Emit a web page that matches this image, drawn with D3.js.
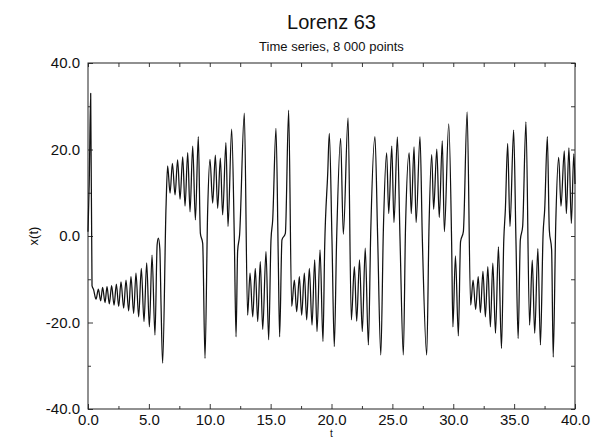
<!DOCTYPE html>
<html>
<head>
<meta charset="utf-8">
<script src="https://cdn.jsdelivr.net/npm/d3@7"></script>
<style>
  body { margin: 0; background: #fff; }
  text { font-family: "Liberation Sans", Arial, sans-serif; fill: #111; }
</style>
</head>
<body>
<div id="container"></div>
<script>
/* DATA */
// [t, x(t)] at the turning points of the trace
const samples = [
  [0.00, 1.0], [0.10, 12.0], [0.22, 33.0], [0.33, -11.5], [0.45, -12.3],
  [0.66, -14.6], [0.85, -12.3], [1.04, -15.0], [1.20, -11.9], [1.40, -15.4],
  [1.56, -11.7], [1.75, -15.7], [1.94, -11.5], [2.14, -16.0], [2.33, -11.1],
  [2.52, -16.3], [2.71, -10.6], [2.93, -16.7], [3.12, -10.2], [3.34, -17.3],
  [3.53, -9.4], [3.75, -17.9], [3.94, -8.6], [4.16, -18.7], [4.38, -7.5],
  [4.60, -19.8], [4.82, -6.2], [5.04, -21.0], [5.26, -4.4], [5.50, -22.9],
  [5.68, -2.0], [5.78, -0.5], [5.90, -3.0], [6.00, -16.0], [6.13, -29.4],
  [6.41, 6.8], [6.54, 16.2], [6.74, 9.9], [6.93, 16.8], [7.15, 9.5],
  [7.36, 17.6], [7.56, 8.5], [7.78, 18.3], [7.97, 6.9], [8.19, 19.3],
  [8.38, 5.6], [8.60, 20.8], [8.82, 3.7], [9.06, 23.0], [9.23, 0.6],
  [9.42, -1.7], [9.61, -28.3],
  [9.83, 6.0], [10.02, 17.7], [10.24, 7.6], [10.46, 18.7], [10.65, 6.4],
  [10.87, 18.0], [11.06, 4.9], [11.33, 21.6], [11.50, 2.2], [11.80, 24.7],
  [12.02, -0.9], [12.16, -23.3], [12.29, -3.5], [12.45, 0.2], [12.84, 28.4],
  [13.11, -18.3], [13.31, -8.6], [13.53, -18.7], [13.74, -7.5], [13.94, -19.8],
  [14.15, -5.9], [14.35, -21.6], [14.62, -3.6], [14.84, -24.0], [15.03, -0.9],
  [15.17, 3.7], [15.44, 24.9], [15.63, -5.5], [15.74, -23.3], [15.93, -0.9],
  [16.21, 0.6], [16.48, 29.1],
  [16.73, -16.3], [16.95, -10.2], [17.14, -17.5], [17.36, -9.4], [17.55, -18.3],
  [17.77, -8.6], [17.96, -19.4], [18.18, -7.5], [18.40, -20.6], [18.62, -5.5],
  [18.81, -22.1], [19.06, -3.2], [19.30, -24.4], [19.44, -2.5], [19.69, 14.5],
  [19.82, 23.7],
  [20.04, -1.0], [20.23, -25.6], [20.42, -0.9], [20.75, 22.6], [20.97, 0.4],
  [21.36, 27.3], [21.63, -19.4], [21.88, -7.1], [22.07, -19.7], [22.30, -5.5],
  [22.53, -22.1], [22.77, -2.8], [23.03, -25.2], [23.22, 0.6], [23.57, 23.0],
  [23.79, -0.2], [24.05, -27.5], [24.26, 1.4], [24.53, 19.2], [24.70, 5.2],
  [24.95, 20.8], [25.13, 3.1], [25.41, 22.9], [25.63, -0.9], [25.90, -27.5],
  [26.08, 2.0], [26.38, 19.2], [26.55, 5.2], [26.78, 20.6], [26.95, 3.1],
  [27.27, 23.0], [27.46, -0.5], [27.82, -27.5], [28.01, 2.2], [28.23, 18.8],
  [28.39, 6.2], [28.65, 20.1], [28.85, 4.3], [29.10, 22.0], [29.27, 1.0],
  [29.63, 25.9], [29.87, -2.1], [29.97, -21.0], [30.18, -4.6], [30.42, -23.1],
  [30.60, -1.3], [30.83, 1.0], [31.14, 28.7],
  [31.43, -16.0], [31.63, -10.2], [31.84, -17.0], [32.05, -9.4], [32.23, -17.7],
  [32.44, -8.2], [32.64, -18.7], [32.84, -7.1], [33.05, -21.0], [33.25, -6.3],
  [33.47, -22.5], [33.71, -2.5], [33.96, -26.0], [34.15, -1.0], [34.28, 6.1],
  [34.47, 21.4], [34.66, 2.2], [34.96, 24.5], [35.15, -1.0], [35.33, -23.7],
  [35.51, -0.9], [35.70, 2.2], [35.97, 26.4], [36.27, -20.6], [36.49, -5.6],
  [36.69, -22.5], [36.95, -2.9], [37.16, -25.2], [37.38, 0.5], [37.51, 6.1],
  [37.73, 23.0], [37.89, 1.4], [38.08, -3.2], [38.21, -28.0], [38.42, 3.0],
  [38.66, 18.2], [38.85, 6.9], [39.12, 19.7], [39.29, 5.2], [39.50, 20.4],
  [39.70, 2.9], [39.90, 19.0], [40.00, 12.0]
];

// axis ticks
const xMajorTicks = [0, 5, 10, 15, 20, 25, 30, 35, 40];
const xMinorTicks = [2.5, 7.5, 12.5, 17.5, 22.5, 27.5, 32.5, 37.5];
const yMajorTicks = [-40, -20, 0, 20, 40];
const yMinorTicks = [-30, -10, 10, 30];

const titleText = "Lorenz 63";
const subtitleText = "Time series, 8 000 points";

/* CONSTANTS */
const width = 592,
  height = 440,
  margin = { top: 63, right: 17, bottom: 31, left: 88 };

const svg = d3.select("#container")
  .append("svg")
  .attr("width", width)
  .attr("height", height);

// SCALES
const x = d3.scaleLinear()
  .domain([0, 40])
  .range([margin.left, width - margin.right]);

const y = d3.scaleLinear()
  .domain([-40, 40])
  .range([height - margin.bottom, margin.top]);

const fmt = d => d.toFixed(1);

// AXES - ticks point into the box on all four sides
const styleAxis = g => {
  g.select(".domain").remove();
  g.selectAll(".tick line").attr("stroke", "#222").attr("stroke-width", 0.9);
  g.selectAll("text").attr("font-size", 15).attr("fill", "#111");
};

svg.append("g")
  .attr("transform", `translate(0,${y(-40)})`)
  .call(d3.axisBottom(x).tickValues(xMajorTicks).tickSize(-5).tickPadding(5).tickFormat(fmt))
  .call(styleAxis);

svg.append("g")
  .attr("transform", `translate(0,${y(-40)})`)
  .call(d3.axisBottom(x).tickValues(xMinorTicks).tickSize(-3).tickFormat(""))
  .call(styleAxis);

svg.append("g")
  .attr("transform", `translate(0,${y(40)})`)
  .call(d3.axisTop(x).tickValues(xMajorTicks.concat(xMinorTicks)).tickSize(-4).tickFormat(""))
  .call(styleAxis);

svg.append("g")
  .attr("transform", `translate(${x(0)},0)`)
  .call(d3.axisLeft(y).tickValues(yMajorTicks).tickSize(-5).tickPadding(8).tickFormat(fmt))
  .call(styleAxis);

svg.append("g")
  .attr("transform", `translate(${x(0)},0)`)
  .call(d3.axisLeft(y).tickValues(yMinorTicks).tickSize(-3).tickFormat(""))
  .call(styleAxis);

svg.append("g")
  .attr("transform", `translate(${x(40)},0)`)
  .call(d3.axisRight(y).tickValues(yMajorTicks.concat(yMinorTicks)).tickSize(-4).tickFormat(""))
  .call(styleAxis);

// FRAME
svg.append("rect")
  .attr("x", x(0))
  .attr("y", y(40))
  .attr("width", x(40) - x(0))
  .attr("height", y(-40) - y(40))
  .attr("fill", "none")
  .attr("stroke", "#222")
  .attr("stroke-width", 1);

// TIME SERIES
const lineGen = d3.line()
  .x(d => x(d[0]))
  .y(d => y(d[1]))
  .curve(d3.curveMonotoneX);

svg.append("path")
  .datum(samples)
  .attr("d", lineGen)
  .attr("fill", "none")
  .attr("stroke", "#111")
  .attr("stroke-width", 1.25)
  .attr("stroke-linejoin", "round");

// TITLES
const cx = (x(0) + x(40)) / 2;

svg.append("text")
  .attr("x", cx)
  .attr("y", 29)
  .attr("text-anchor", "middle")
  .attr("font-size", 20)
  .text(titleText);

svg.append("text")
  .attr("x", cx)
  .attr("y", 51)
  .attr("text-anchor", "middle")
  .attr("font-size", 13)
  .text(subtitleText);

svg.append("text")
  .attr("transform", `translate(38,${y(0)}) rotate(-90)`)
  .attr("text-anchor", "middle")
  .attr("font-size", 13)
  .text("x(t)");

svg.append("text")
  .attr("x", cx)
  .attr("y", 437)
  .attr("text-anchor", "middle")
  .attr("font-size", 10)
  .text("t");
</script>
</body>
</html>
